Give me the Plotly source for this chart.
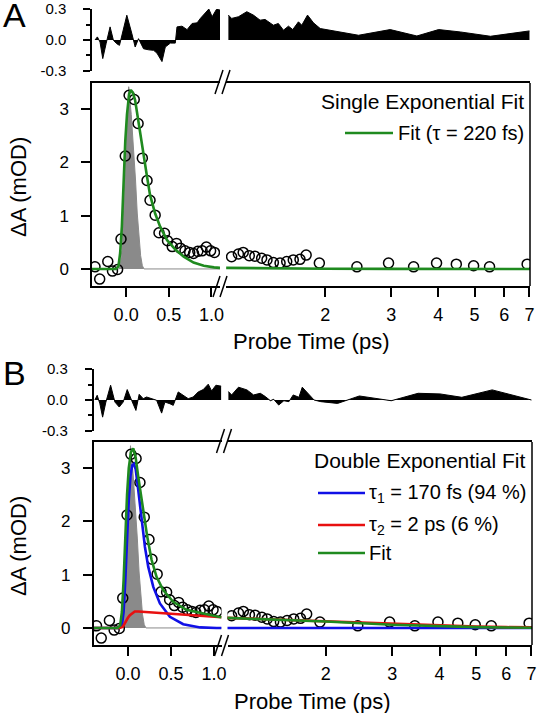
import plotly.graph_objects as go

W, H = 537, 713
FONT = "Liberation Sans, Arial, sans-serif"

# ---------------- data ----------------
# measured transient (same data in panel A and B)
t_early = [-0.365, -0.31, -0.215, -0.16, -0.10, -0.06, -0.01, 0.035, 0.095, 0.14,
           0.19, 0.245, 0.28, 0.34, 0.385, 0.45, 0.485, 0.54, 0.59, 0.635,
           0.69, 0.745, 0.79, 0.84, 0.89, 0.94, 0.99, 1.035]
dA_early = [0.04, -0.19, 0.14, -0.04, -0.01, 0.56, 2.12, 3.26, 3.18, 2.73,
            2.08, 1.66, 1.29, 1.01, 0.68, 0.67, 0.53, 0.42, 0.48, 0.39,
            0.34, 0.31, 0.29, 0.33, 0.34, 0.41, 0.34, 0.31]
t_late = [1.127, 1.175, 1.21, 1.256, 1.30, 1.355, 1.40, 1.456, 1.517, 1.58, 1.645,
          1.714, 1.78, 1.93, 2.43, 2.95, 3.44, 3.96, 4.47, 4.97, 5.48, 6.9]
dA_late = [0.23, 0.28, 0.31, 0.25, 0.24, 0.20, 0.17, 0.12, 0.11, 0.14, 0.17,
           0.18, 0.26, 0.11, 0.04, 0.11, 0.04, 0.11, 0.09, 0.06, 0.04, 0.09]

# instrument response (grey)
irf_t = [-0.4, -0.08, -0.07, -0.05, -0.03, -0.01, 0.01, 0.03, 0.06, 0.09, 0.11,
         0.13, 0.15, 0.17, 0.19, 0.21, 1.1]
irf_v = [0, 0, 0.05, 0.35, 1.1, 2.0, 2.85, 3.42, 2.9, 2.25, 1.67,
         1.05, 0.6, 0.25, 0.06, 0, 0]

# panel A: single exponential fit
fitA_t_early = [-0.4, -0.12, -0.09, -0.07, -0.05, -0.03, -0.01, 0.01, 0.035, 0.055,
                0.08, 0.105, 0.135, 0.165, 0.205, 0.245, 0.28, 0.34, 0.40, 0.48,
                0.58, 0.675, 0.79, 0.91, 1.03, 1.1]
fitA_v_early = [0, 0, 0.05, 0.3, 0.8, 1.67, 2.4, 2.9, 3.28, 3.36,
                3.3, 3.17, 2.85, 2.51, 2.17, 1.73, 1.39, 1.04, 0.79, 0.54,
                0.36, 0.23, 0.12, 0.06, 0.03, 0.02]
fitA_t_late = [1.09, 1.3, 1.6, 2, 3, 4, 5, 6, 7.05]
fitA_v_late = [0.02, 0.012, 0.006, 0.003, 0.001, 0, 0, 0, 0]

# panel A residuals
resA_t_early = [-0.365, -0.337, -0.306, -0.274, -0.235, -0.188, -0.149, -0.11, -0.078,
                -0.039, 0.008, 0.067, 0.106, 0.145, 0.165, 0.204, 0.263, 0.322,
                0.361, 0.42, 0.459, 0.518, 0.576, 0.596, 0.655, 0.714, 0.773,
                0.832, 0.871, 0.918, 0.969, 1.008, 1.059, 1.1]
resA_v_early = [0, 0.03, -0.02, -0.18, -0.036, 0.127, -0.003, -0.036, -0.052,
                0.078, 0.24, 0.062, -0.068, 0.013, -0.02, -0.085, -0.095, -0.10,
                -0.127, -0.209, -0.068, -0.03, -0.03, 0.127, 0.134, 0.10, 0.16,
                0.166, 0.21, 0.258, 0.30, 0.225, 0.297, 0.29]
res_t_late = [1.105, 1.127, 1.175, 1.237, 1.288, 1.342, 1.384, 1.427, 1.456, 1.501,
              1.549, 1.597, 1.640, 1.698, 1.733, 1.795, 1.862, 1.940, 2.148, 2.454,
              2.98, 3.51, 4.01, 4.58, 5.51, 7.0]
resA_v_late = [0.241, 0.209, 0.225, 0.274, 0.241, 0.192, 0.199, 0.16, 0.143, 0.16,
               0.095, 0.134, 0.101, 0.176, 0.143, 0.241, 0.166, 0.111, 0.085, 0.046,
               0.101, 0.039, 0.101, 0.078, 0.036, 0.088]

# panel B: double exponential fit
blue_t_early = [-0.4, -0.1, -0.07, -0.05, -0.03, -0.01, 0.01, 0.03, 0.05, 0.07, 0.09,
                0.12, 0.159, 0.198, 0.236, 0.295, 0.372, 0.488, 0.643, 0.84, 1.03, 1.09]
blue_v_early = [0, 0, 0.05, 0.3, 0.9, 1.7, 2.4, 2.85, 3.05, 3.08, 2.98,
                2.59, 2.03, 1.52, 1.15, 0.77, 0.46, 0.21, 0.07, 0.01, 0.0, 0.0]
blue_t_late = [1.09, 2, 4, 7.05]
blue_v_late = [0, 0, 0, 0]
red_t_early = [-0.4, -0.1, -0.06, -0.035, 0.0, 0.023, 0.05, 0.08, 0.12, 0.217,
               0.49, 0.76, 1.07, 1.09]
red_v_early = [0, 0, 0.02, 0.1, 0.19, 0.24, 0.28, 0.31, 0.31, 0.30,
               0.27, 0.24, 0.21, 0.2]
red_t_late = [1.09, 1.3, 1.6, 2, 2.5, 3, 4, 5, 6, 7.05]
red_v_late = [0.19, 0.17, 0.15, 0.12, 0.09, 0.07, 0.04, 0.025, 0.015, 0.01]
fitB_t_early = [-0.4, -0.12, -0.09, -0.07, -0.05, -0.03, -0.01, 0.01, 0.035, 0.062,
                0.09, 0.12, 0.178, 0.225, 0.275, 0.333, 0.41, 0.527, 0.68, 0.837,
                1.05, 1.09]
fitB_v_early = [0, 0, 0.05, 0.3, 0.9, 1.75, 2.5, 3.0, 3.3, 3.37,
                3.2, 2.84, 2.21, 1.71, 1.28, 0.96, 0.71, 0.49, 0.34, 0.28,
                0.21, 0.2]
fitB_t_late = [1.09, 1.5, 2, 3, 4, 5, 6, 7.05]
fitB_v_late = [0.19, 0.16, 0.12, 0.06, 0.03, 0.015, 0.008, 0.005]

# panel B residuals
resB_t_early = [-0.384, -0.357, -0.326, -0.294, -0.256, -0.201, -0.151, -0.101, -0.055,
                -0.008, 0.043, 0.093, 0.131, 0.178, 0.217, 0.276, 0.334, 0.392,
                0.430, 0.488, 0.527, 0.585, 0.643, 0.701, 0.759, 0.817, 0.876,
                0.934, 0.973, 1.023, 1.085]
resB_v_early = [0, 0.046, -0.036, -0.166, -0.02, 0.143, -0.02, -0.068, -0.02,
                0.101, -0.003, -0.101, 0.055, 0.013, 0.029, 0.013, -0.003, -0.127,
                -0.02, -0.036, -0.052, 0.078, 0.046, 0.013, 0.029, 0.078, 0.101,
                0.153, 0.088, 0.143, 0.134]
resB_v_late = [0.082, 0.049, 0.124, 0.098, 0.049, 0.065, 0.033, -0.007, 0.007, -0.049,
               -0.007, -0.016, 0.049, 0.026, 0.124, 0.065, 0.0, -0.016, -0.033, 0.039,
               -0.007, 0.065, 0.059, 0.026, 0.098, 0.0]

early_ticks = [0.0, 0.5, 1.0]
early_labels = ["0.0", "0.5", "1.0"]
late_ticks = [2, 3, 4, 5, 6, 7]
late_labels = ["2", "3", "4", "5", "6", "7"]
dA_ticks = [0, 1, 2, 3]
res_ticks = [-0.3, 0.0, 0.3]
res_labels = ["-0.3", "0.0", "0.3"]

GREEN = "#1f8a1f"
BLUE = "#1010e6"
RED = "#e81010"
GREY = "#8a8a8a"


def PX(x):
    return x / W


def PY(y):
    return 1 - y / H


fig = go.Figure()


def line_tr(x, y, xa, ya, color, width=2.6, fill=None, fillcolor=None):
    fig.add_trace(go.Scatter(x=x, y=y, mode="lines", xaxis=xa, yaxis=ya,
                             line=dict(color=color, width=width),
                             fill=fill, fillcolor=fillcolor,
                             showlegend=False, hoverinfo="skip"))


def dots(x, y, xa, ya):
    fig.add_trace(go.Scatter(x=x, y=y, mode="markers", xaxis=xa, yaxis=ya,
                             marker=dict(symbol="circle-open", size=10, color="black",
                                         line=dict(width=1.5, color="black")),
                             showlegend=False, hoverinfo="skip"))


# ---- panel A ----
line_tr(irf_t, irf_v, "x", "y", GREY, 1, "tozeroy", GREY)
dots(t_early, dA_early, "x", "y")
dots(t_late, dA_late, "x2", "y")
line_tr(fitA_t_early, fitA_v_early, "x", "y", GREEN)
line_tr(fitA_t_late, fitA_v_late, "x2", "y", GREEN)
line_tr(resA_t_early, resA_v_early, "x", "y2", "black", 1, "tozeroy", "black")
line_tr(res_t_late, resA_v_late, "x2", "y2", "black", 1, "tozeroy", "black")

# ---- panel B ----
line_tr(irf_t, irf_v, "x3", "y3", GREY, 1, "tozeroy", GREY)
dots(t_early, dA_early, "x3", "y3")
dots(t_late, dA_late, "x4", "y3")
line_tr(blue_t_early, blue_v_early, "x3", "y3", BLUE)
line_tr(blue_t_late, blue_v_late, "x4", "y3", BLUE)
line_tr(red_t_early, red_v_early, "x3", "y3", RED)
line_tr(red_t_late, red_v_late, "x4", "y3", RED)
line_tr(fitB_t_early, fitB_v_early, "x3", "y3", GREEN)
line_tr(fitB_t_late, fitB_v_late, "x4", "y3", GREEN)
line_tr(resB_t_early, resB_v_early, "x3", "y4", "black", 1, "tozeroy", "black")
line_tr(res_t_late, resB_v_late, "x4", "y4", "black", 1, "tozeroy", "black")


def xax(d0, d1, rng, tv, tt, anchor, typ="linear"):
    return dict(domain=[PX(d0), PX(d1)], range=rng, type=typ, anchor=anchor,
                tickmode="array", tickvals=tv, ticktext=tt, ticks="outside",
                ticklen=9, tickwidth=1.5, tickcolor="black", showline=True,
                mirror=True, linecolor="black", linewidth=1.5, showgrid=False,
                zeroline=False, tickfont=dict(size=18, color="black", family=FONT),
                ticklabelstandoff=3, fixedrange=True)


def ymain(top, bot, anchor):
    return dict(domain=[PY(bot), PY(top)], range=[-0.32, 3.49], anchor=anchor,
                tickmode="array", tickvals=dA_ticks, ticktext=[str(v) for v in dA_ticks],
                ticks="outside", ticklen=9, tickwidth=1.5, tickcolor="black",
                showline=True, linecolor="black", linewidth=1.5, showgrid=False,
                zeroline=False, tickfont=dict(size=17, color="black", family=FONT),
                ticklabelstandoff=9)


def yres(top, bot, anchor):
    return dict(domain=[PY(bot), PY(top)], range=[-0.3001, 0.3001], anchor=anchor,
                tickmode="array", tickvals=res_ticks, ticktext=res_labels,
                ticks="outside", ticklen=7, tickwidth=1.5, tickcolor="black",
                minor=dict(tickmode="array", tickvals=[-0.15, 0.15], ticks="outside",
                           ticklen=4, tickwidth=1.5, tickcolor="black"),
                showline=True, linecolor="black", linewidth=1.5, showgrid=False,
                zeroline=False, tickfont=dict(size=15, color="black", family=FONT),
                ticklabelstandoff=14)


fig.update_layout(
    width=W, height=H, autosize=False, template="none",
    margin=dict(l=0, r=0, t=0, b=0),
    paper_bgcolor="white", plot_bgcolor="rgba(0,0,0,0)",
    font=dict(family=FONT, color="black"),
    xaxis=xax(92, 220, [-0.4, 1.1], early_ticks, early_labels, "y"),
    xaxis2=xax(226, 530, [0.037, 0.8465], late_ticks, late_labels, "y", "log"),
    yaxis=ymain(83, 286, "x"),
    yaxis2=yres(9, 71, "x"),
    xaxis3=xax(93.5, 221.5, [-0.4, 1.088], early_ticks, early_labels, "y3"),
    xaxis4=xax(227.5, 532, [0.041, 0.8465], late_ticks, late_labels, "y3", "log"),
    yaxis3=ymain(442, 645, "x3"),
    yaxis4=yres(369, 431, "x3"),
)

shapes = []
# right frame edges
shapes.append(dict(type="line", xref="x2 domain", yref="y domain", x0=1, x1=1, y0=0, y1=1,
                   line=dict(color="black", width=1.5)))
shapes.append(dict(type="line", xref="x4 domain", yref="y3 domain", x0=1, x1=1, y0=0, y1=1,
                   line=dict(color="black", width=1.5)))


def brk(dx, dy):
    out = []
    for (x0, y0, x1, y1) in [(215, 94, 223, 70), (222, 94, 230, 70),
                             (213, 297, 220, 276), (220, 297, 227, 276)]:
        out.append(dict(type="line", xref="paper", yref="paper",
                        x0=PX(x0 + dx), y0=PY(y0 + dy), x1=PX(x1 + dx), y1=PY(y1 + dy),
                        line=dict(color="black", width=1.5)))
    return out


shapes += brk(0, 0)
shapes += brk(1.5, 359)


def swatch(x0, x1, y, color):
    return dict(type="line", xref="paper", yref="paper", x0=PX(x0), x1=PX(x1),
                y0=PY(y), y1=PY(y), line=dict(color=color, width=2.6))


shapes.append(swatch(345, 393, 133, GREEN))
shapes.append(swatch(318, 365, 493, BLUE))
shapes.append(swatch(318, 365, 525, RED))
shapes.append(swatch(318, 365, 553, GREEN))
fig.update_layout(shapes=shapes)

ann = []


def text(x, y, s, size, xanchor="center", angle=0):
    ann.append(dict(x=PX(x), y=PY(y), xref="paper", yref="paper", text=s, showarrow=False,
                    xanchor=xanchor, yanchor="middle", textangle=angle,
                    font=dict(size=size, color="black", family=FONT)))


text(14, 15, "A", 34)
text(14, 373, "B", 34)
text(18, 187, "ΔA (mOD)", 22, angle=-90)
text(18, 546, "ΔA (mOD)", 22, angle=-90)
text(311, 342, "Probe Time (ps)", 22)
text(312, 701, "Probe Time (ps)", 22)
text(526, 102, "Single Exponential Fit", 21, "right")
text(396, 133, "Fit (τ = 220 fs)", 20, "left")
text(527, 460, "Double Exponential Fit", 21, "right")
text(367, 493, "τ<sub>1</sub> = 170 fs (94 %)", 20, "left")
text(367, 525, "τ<sub>2</sub> = 2 ps (6 %)", 20, "left")
text(367, 553, "Fit", 20, "left")
fig.update_layout(annotations=ann)

fig.write_html("out.html", config={"displayModeBar": False},
               post_script="document.body.style.margin='0px';document.body.style.padding='0px';")
